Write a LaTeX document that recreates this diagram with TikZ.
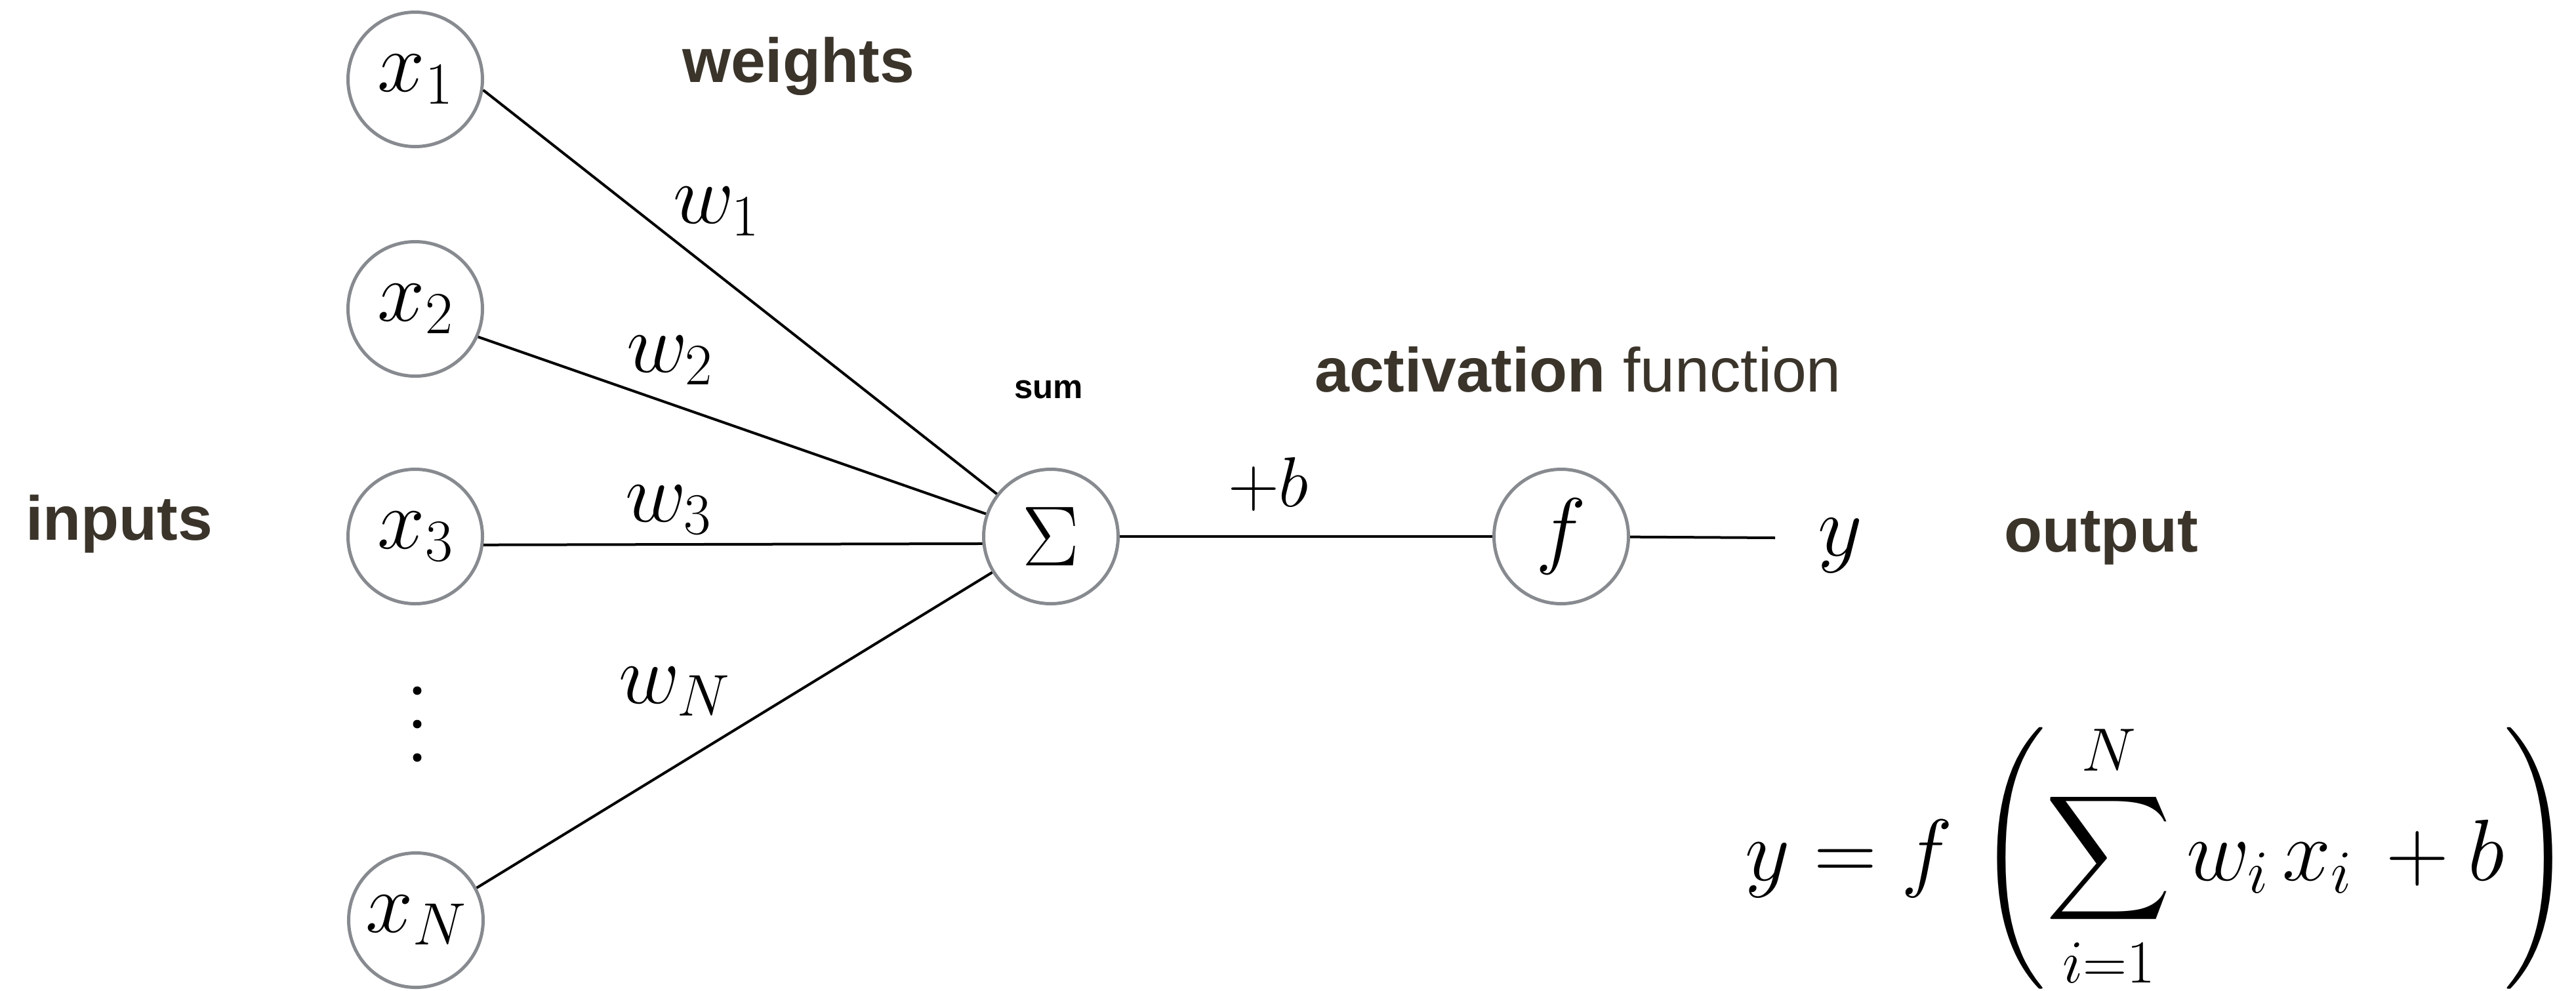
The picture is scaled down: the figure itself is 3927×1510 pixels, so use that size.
\documentclass[tikz,border=0pt]{standalone}
\usepackage{fix-cm}
\usepackage{fontspec}
\DeclareFontShape{OMX}{cmex}{m}{n}{<->cmex10}{}
\newfontfamily\lab{Liberation Sans}
\definecolor{lbl}{RGB}{58,52,42}
\definecolor{ring}{RGB}{135,138,143}
\begin{document}
\begin{tikzpicture}[x=1pt,y=-1pt,
  neuron/.style={circle,draw=ring,line width=5pt,minimum size=205pt,inner sep=0pt,font=\fontsize{130}{130}\selectfont},
  conn/.style={line width=4pt,black},
  hdr/.style={inner sep=0pt,anchor=base west,text=lbl,font=\lab\bfseries\fontsize{95}{110}\selectfont},
  wlab/.style={inner sep=0pt,anchor=base west,font=\fontsize{128}{130}\selectfont},
  dotn/.style={circle,fill=black,inner sep=0pt,minimum size=13pt}]
\useasboundingbox (0,0) rectangle (3927,1510);
% input neurons
\node[neuron] (x1) at (633,121) {$x_1$};
\node[neuron] (x2) at (633,471) {$x_2$};
\node[neuron] (x3) at (633,818) {$x_3$};
\node[neuron] (xN) at (634,1403) {$x_N$};
\node[dotn] (d1) at (636,1053) {};
\node[dotn] (d2) at (636,1104) {};
\node[dotn] (d3) at (636,1155) {};
% sum and activation
\node[neuron] (sum) at (1602,818) {$\Sigma$};
\node[neuron] (f) at (2380,818) {$f$};
\coordinate (yend) at (2706,820);
\node[wlab,font=\fontsize{132}{132}\selectfont] (ylab) at (2771,847) {$y$};
% connectors
\draw[conn] (x1.-9) -- (sum);
\draw[conn] (x2.-24) -- (sum);
\draw[conn] (x3.-7) -- (sum.186.7);
\draw[conn] (xN.28) -- (sum);
\draw[conn] (sum) -- (f);
\draw[conn] (f) -- (yend);
% weight labels
\node[wlab] (w1) at (1026,340) {$w_1$};
\node[wlab] (w2) at (955,567) {$w_2$};
\node[wlab] (w3) at (953,795) {$w_3$};
\node[wlab] (wN) at (943,1072) {$w_N$};
\node[wlab,font=\fontsize{108}{110}\selectfont] (bias) at (1872,772) {$+b$};
% headings
\node[hdr] (weights) at (1040,125) {weights};
\node[hdr] (inputs) at (39,823) {inputs};
\node[hdr,text=black,font=\lab\bfseries\fontsize{51}{60}\selectfont] (sumlbl) at (1546,607) {sum};
\node[hdr] (act) at (2004,597) {activation \mdseries function};
\node[hdr] (output) at (3055,841) {output};
% formula
\node[inner sep=0pt,anchor=base west,font=\fontsize{133}{136}\selectfont] (eq) at (2660,1342)
  {\delimiterfactor=800 \delimitershortfall=100pt
   $\displaystyle y = f\mskip2mu\left(\sum_{i=1}^{N} w_i\mskip3mu x_i\mskip3mu + b\right)$};
\end{tikzpicture}
\end{document}
